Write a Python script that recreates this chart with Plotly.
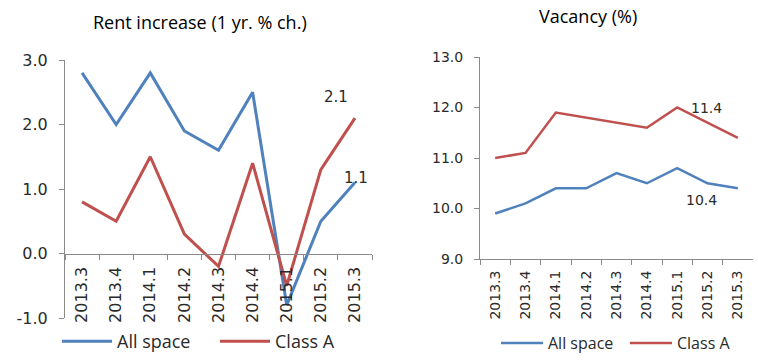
import plotly.graph_objects as go

quarters = ["2013.3", "2013.4", "2014.1", "2014.2", "2014.3", "2014.4", "2015.1", "2015.2", "2015.3"]
rent_all = [2.8, 2.0, 2.8, 1.9, 1.6, 2.5, -0.8, 0.5, 1.1]
rent_a = [0.8, 0.5, 1.5, 0.3, -0.2, 1.4, -0.5, 1.3, 2.1]
vac_all = [9.9, 10.1, 10.4, 10.4, 10.7, 10.5, 10.8, 10.5, 10.4]
vac_a = [11.0, 11.1, 11.9, 11.8, 11.7, 11.6, 12.0, 11.7, 11.4]
rent_ticks = [-1.0, 0.0, 1.0, 2.0, 3.0]
vac_ticks = [9.0, 10.0, 11.0, 12.0, 13.0]

BLUE = "#4F81BD"
RED = "#C0504D"
AX = "#8A8A8A"
TXT = "#2A2A2A"

W, H = 758, 360

def px(v):
    return v / W

def py(v):
    return 1 - v / H

fig = go.Figure()

fig.add_trace(go.Scatter(x=quarters, y=rent_all, mode="lines", name="All space",
                         line=dict(color=BLUE, width=3), xaxis="x", yaxis="y", legend="legend"))
fig.add_trace(go.Scatter(x=quarters, y=rent_a, mode="lines", name="Class A",
                         line=dict(color=RED, width=3), xaxis="x", yaxis="y", legend="legend"))
fig.add_trace(go.Scatter(x=quarters, y=vac_all, mode="lines", name="All space",
                         line=dict(color=BLUE, width=2.5), xaxis="x2", yaxis="y2", legend="legend2"))
fig.add_trace(go.Scatter(x=quarters, y=vac_a, mode="lines", name="Class A",
                         line=dict(color=RED, width=2.5), xaxis="x2", yaxis="y2", legend="legend2"))

y1_dom = [py(318), py(60)]
y2_dom = [py(259), py(57)]
rmin, rmax = rent_ticks[0], rent_ticks[-1]
zero_pos = y1_dom[0] + (0 - rmin) / (rmax - rmin) * (y1_dom[1] - y1_dom[0])

tickfont_l = dict(family="DejaVu Sans", size=16, color=TXT)
tickfont_r = dict(family="DejaVu Sans", size=14, color=TXT)

common_x = dict(type="category", tickson="boundaries", ticks="outside", ticklen=5,
                tickcolor=AX, showline=True, linecolor=AX, linewidth=1,
                tickangle=-90, showgrid=False, zeroline=False, automargin=False,
                range=[-0.5, len(quarters) - 0.5])
common_y = dict(tickformat=".1f", ticks="outside", ticklen=5, tickcolor=AX,
                showline=True, linecolor=AX, linewidth=1, showgrid=False,
                zeroline=False, automargin=False)

fig.update_layout(
    template="none",
    width=W, height=H,
    margin=dict(l=0, r=0, t=0, b=0),
    paper_bgcolor="white", plot_bgcolor="white",
    hovermode=False,
    xaxis=dict(domain=[px(65), px(372)], anchor="free", position=zero_pos,
               tickfont=tickfont_l, ticklabelstandoff=6, **common_x),
    yaxis=dict(domain=y1_dom, anchor="x", range=[rmin, rmax], tickvals=rent_ticks,
               ticktext=[f"{v:.1f}" for v in rent_ticks], tickfont=tickfont_l,
               ticklabelstandoff=8, **common_y),
    xaxis2=dict(domain=[px(480), px(753)], anchor="y2", tickfont=tickfont_r,
                ticklabelstandoff=5, **common_x),
    yaxis2=dict(domain=y2_dom, anchor="x2", range=[vac_ticks[0], vac_ticks[-1]],
                tickvals=vac_ticks, ticktext=[f"{v:.1f}" for v in vac_ticks],
                tickfont=tickfont_r, ticklabelstandoff=8, **common_y),
    legend=dict(orientation="h", x=px(57), y=0, xanchor="left", yanchor="bottom",
                font=dict(family="Open Sans", size=18, color=TXT), bgcolor="rgba(0,0,0,0)",
                itemwidth=50, entrywidth=93, tracegroupgap=0),
    legend2=dict(orientation="h", x=px(496), y=0, xanchor="left", yanchor="bottom",
                 font=dict(family="Open Sans", size=16, color=TXT), bgcolor="rgba(0,0,0,0)",
                 itemwidth=42, entrywidth=72, tracegroupgap=0),
    showlegend=True,
)

annots = [
    dict(text="Rent increase (1 yr. % ch.)", x=px(200), y=py(22), xref="paper", yref="paper",
         xanchor="center", yanchor="middle", showarrow=False,
         font=dict(family="Open Sans", size=18, color="black")),
    dict(text="Vacancy (%)", x=px(588), y=py(16), xref="paper", yref="paper",
         xanchor="center", yanchor="middle", showarrow=False,
         font=dict(family="Open Sans", size=18, color="black")),
    dict(text=f"{rent_a[-1]:.1f}", x=len(quarters) - 1, y=rent_a[-1], xref="x", yref="y",
         xanchor="center", yanchor="middle", xshift=-19, yshift=21, showarrow=False,
         font=dict(family="DejaVu Sans", size=15, color=TXT)),
    dict(text=f"{rent_all[-1]:.1f}", x=len(quarters) - 1, y=rent_all[-1], xref="x", yref="y",
         xanchor="center", yanchor="middle", xshift=1, yshift=5, showarrow=False,
         font=dict(family="DejaVu Sans", size=15, color=TXT)),
    dict(text=f"{vac_a[-1]:.1f}", x=len(quarters) - 1, y=vac_a[-1], xref="x2", yref="y2",
         xanchor="center", yanchor="middle", xshift=-31, yshift=30, showarrow=False,
         font=dict(family="DejaVu Sans", size=14, color=TXT)),
    dict(text=f"{vac_all[-1]:.1f}", x=len(quarters) - 1, y=vac_all[-1], xref="x2", yref="y2",
         xanchor="center", yanchor="middle", xshift=-36, yshift=-12, showarrow=False,
         font=dict(family="DejaVu Sans", size=14, color=TXT)),
]
fig.update_layout(annotations=annots)

fig.write_html("out.html", config={"displayModeBar": False},
               post_script="document.body.style.margin='0';document.body.style.overflow='hidden';")
